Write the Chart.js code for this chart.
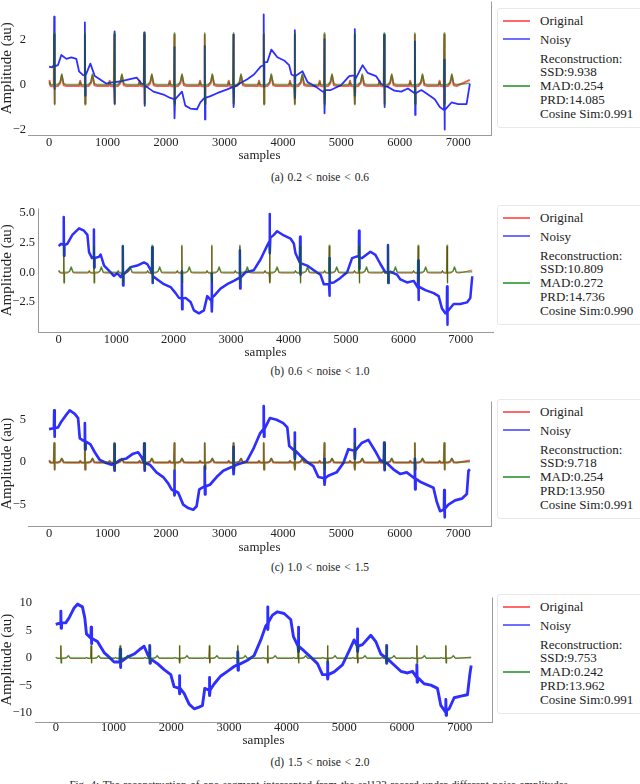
<!DOCTYPE html>
<html>
<head>
<meta charset="utf-8">
<script src="https://cdn.jsdelivr.net/npm/chart.js@4.4.1/dist/chart.umd.min.js"></script>
<style>
  body { margin: 0; background: #fff; }
  #page { position: relative; width: 640px; height: 784px; overflow: hidden; font-family: "Liberation Serif", serif; color: #222; }
  canvas { position: absolute; left: 0; }
  .legend { position: absolute; left: 497px; width: 150px; height: 120px; border: 1px solid #e8e8e8; border-radius: 3px; background: #fff; box-sizing: border-box; }
  .row { position: absolute; left: 42px; font-size: 13px; line-height: 14px; white-space: nowrap; }
  .swatch { position: absolute; left: 5px; width: 27px; }
  .cap { position: absolute; left: 0; width: 640px; text-align: center; font-size: 11.5px; line-height: 14px; word-spacing: 1px; }
</style>
</head>
<body>
<div id="page"></div>
<script>
// ---- data ----
const sampleTicks = [0, 1000, 2000, 3000, 4000, 5000, 6000, 7000];
const yTicksA = [-2, 0, 2];
const yTicksB = [-2.5, 0, 2.5, 5];
const yTicksC = [-5, 0, 5];
const yTicksD = [-10, -5, 0, 5, 10];

// R-peak positions (samples) and one beat of the clean / reconstructed ECG
const beatSamples = [90, 615, 1118, 1630, 2146, 2665, 3156, 3674, 4204, 4712, 5230, 5734, 6260, 6762];
const beatOffsets = [-150, -100, -82, -64, -10, -2, 3, 10, 60, 100, 128, 160, 210];
const originalBeat = [-0.07, -0.07, 0.16, -0.07, -0.09, 2.2, -0.85, -0.08, -0.07, 0.05, 0.4, -0.04, -0.07];
const reconBeat = [0, 0, 0.1, 0, -0.02, 2.28, -0.9, 0, 0, 0.1, 0.46, 0.03, 0];

const noisyA = [[0,0.79],[50,0.75],[84,0.85],[88,3.0],[93,-0.2],[100,0.8],[152,0.85],[210,1.3],[296,1.13],[381,1.2],[467,1.13],[513,0.58],[582,0.41],[609,0.4],[613,2.75],[618,-0.5],[625,0.4],[707,0.92],[782,0.37],[868,0.23],[983,0.03],[1050,0.08],[1112,0.1],[1116,2.35],[1121,-0.85],[1128,0.1],[1241,0.14],[1385,0.23],[1499,0.3],[1585,0.03],[1624,0.0],[1628,2.3],[1633,-0.95],[1640,-0.05],[1671,-0.11],[1786,-0.32],[1958,-0.45],[2073,-0.6],[2140,-0.65],[2144,1.65],[2149,-1.5],[2156,-0.66],[2274,-0.32],[2331,-0.94],[2417,-1.07],[2531,-1.1],[2588,-0.8],[2659,-0.6],[2663,1.7],[2668,-1.55],[2675,-0.6],[2761,-0.52],[2875,-0.39],[3047,-0.22],[3150,-0.11],[3154,2.2],[3159,-1.0],[3166,-0.11],[3276,0.06],[3391,0.23],[3505,0.44],[3620,0.79],[3668,0.85],[3672,3.1],[3677,-0.1],[3684,0.99],[3734,0.99],[3803,1.54],[3906,1.2],[4021,1.06],[4107,0.85],[4147,0.44],[4198,0.37],[4202,2.4],[4207,-0.6],[4214,0.37],[4336,0.58],[4422,0.1],[4565,-0.11],[4680,-0.32],[4706,-0.3],[4710,2.0],[4715,-1.28],[4722,-0.25],[4820,-0.25],[4992,-0.04],[5135,0.37],[5224,0.4],[5228,2.45],[5233,-0.5],[5240,0.23],[5364,0.85],[5450,0.51],[5593,0.37],[5680,0.03],[5728,-0.05],[5732,2.2],[5737,-1.0],[5744,-0.08],[5795,-0.11],[5909,-0.28],[6024,-0.32],[6139,-0.18],[6254,-0.39],[6258,1.9],[6263,-1.35],[6270,-0.39],[6369,-0.25],[6483,-0.45],[6598,-0.66],[6684,-1.0],[6756,-1.14],[6760,1.1],[6765,-2.0],[6772,-1.14],[6884,-0.8],[6999,-0.87],[7142,-0.87],[7199,0.03]];

const noisyB = [[0,2.2],[40,2.4],[84,2.3],[88,4.65],[93,1.4],[100,2.3],[150,2.4],[238,3.15],[354,3.7],[440,3.5],[500,3.15],[528,1.7],[580,1.2],[609,1.3],[613,3.6],[618,0.4],[625,1.2],[700,1.3],[730,1.5],[790,0.57],[905,0],[960,-0.3],[1020,-0.08],[1080,-0.4],[1112,-0.1],[1116,2.2],[1121,-1.1],[1128,-0.2],[1252,0.44],[1368,0.57],[1484,0.83],[1542,0.7],[1600,0.2],[1624,-0.1],[1628,2.1],[1633,-0.9],[1640,-0.3],[1716,-0.6],[1832,-1.0],[1948,-1.24],[2035,-1.75],[2093,-2.15],[2140,-2.2],[2144,0.1],[2149,-3.1],[2156,-2.2],[2209,-2.15],[2296,-2.5],[2354,-3.2],[2441,-3.45],[2528,-3.2],[2586,-2.0],[2640,-2.3],[2659,-2.4],[2663,-0.1],[2668,-3.3],[2675,-2.1],[2701,-2.0],[2817,-1.37],[2933,-1.0],[3049,-0.72],[3150,-0.45],[3154,1.85],[3159,-1.35],[3166,-0.45],[3252,0],[3397,0.18],[3513,1.08],[3629,2.25],[3668,2.6],[3672,4.9],[3677,1.6],[3684,2.9],[3745,3.15],[3803,3.46],[3919,3.1],[4035,2.84],[4093,2.43],[4122,1.6],[4198,0.8],[4202,3.0],[4207,-0.2],[4214,0.78],[4325,0.57],[4441,0.18],[4557,-0.2],[4615,-1.0],[4706,-1.0],[4710,1.2],[4715,-1.96],[4722,-0.9],[4788,-0.85],[4904,-0.47],[5020,0],[5107,1.2],[5194,1.34],[5224,1.3],[5228,3.5],[5233,0.3],[5240,1.2],[5281,1.2],[5426,1.73],[5513,1.47],[5600,0.7],[5687,0],[5728,0],[5732,2.3],[5737,-0.9],[5744,0],[5774,0.05],[5890,-0.2],[5948,-0.6],[6064,-0.85],[6180,-0.72],[6254,-1.3],[6258,1.0],[6263,-2.33],[6270,-1.2],[6383,-1.5],[6528,-1.75],[6614,-2.0],[6672,-3.05],[6730,-3.44],[6756,-3.4],[6760,-1.2],[6765,-4.4],[6772,-3.3],[6875,-2.66],[6991,-2.66],[7107,-2.53],[7165,-2.15],[7199,-0.33]];

const noisyC = [[0,3.9],[84,4.0],[88,6.1],[93,3.0],[100,4.0],[155,4.1],[212,4.8],[297,5.6],[354,6.1],[440,5.7],[497,5.2],[526,2.8],[609,2.45],[613,4.6],[618,1.5],[625,2.45],[708,2.1],[782,1.17],[868,0.26],[982,-0.1],[1068,-0.3],[1112,-0.2],[1116,2.1],[1121,-1.0],[1128,-0.2],[1211,0.26],[1325,0.44],[1439,1.0],[1524,1.17],[1581,0.62],[1624,-0.05],[1628,2.2],[1633,-1.0],[1640,-0.1],[1724,-0.3],[1838,-1.2],[1952,-1.75],[2038,-2.5],[2095,-3.2],[2140,-3.4],[2144,-1.0],[2149,-3.9],[2156,-3.4],[2210,-3.6],[2295,-5.0],[2381,-5.4],[2467,-5.6],[2524,-5.2],[2570,-3.2],[2659,-2.85],[2663,-0.5],[2668,-3.8],[2675,-2.85],[2752,-2.66],[2866,-1.75],[2980,-1.0],[3094,-0.66],[3150,-0.5],[3154,1.8],[3159,-1.4],[3166,-0.5],[3208,-0.3],[3379,0.07],[3493,1.53],[3607,3.36],[3668,3.9],[3672,6.6],[3677,3.0],[3684,3.9],[3778,5.2],[3892,5.0],[4006,4.6],[4075,4.1],[4109,1.9],[4198,1.35],[4202,3.5],[4207,0.4],[4214,1.35],[4292,0.8],[4406,0.07],[4521,-0.47],[4606,-1.75],[4706,-1.9],[4710,0.4],[4715,-2.66],[4722,-1.9],[4777,-1.6],[4920,-1.2],[5035,-0.1],[5120,1.53],[5224,1.35],[5228,3.9],[5233,0.4],[5240,1.35],[5348,2.26],[5462,2.63],[5576,1.35],[5662,0.26],[5728,0],[5732,2.3],[5737,-0.95],[5744,-0.05],[5776,-0.1],[5890,-0.84],[6005,-1.39],[6119,-1.2],[6254,-1.93],[6258,0.4],[6263,-3.2],[6270,-1.93],[6347,-2.3],[6461,-2.66],[6575,-3.0],[6632,-4.67],[6689,-5.77],[6756,-5.58],[6760,-3.3],[6765,-6.5],[6772,-5.5],[6832,-5.0],[6946,-4.5],[7060,-4.3],[7146,-3.76],[7175,-1.0],[7199,-0.84]];

const noisyD = [[0,6.1],[84,6.4],[88,8.5],[93,5.4],[100,6.4],[173,6.4],[231,7.3],[318,9.1],[376,9.8],[462,9.3],[503,7.3],[532,4.4],[609,3.6],[613,5.6],[618,2.6],[625,3.6],[722,3.0],[838,1.0],[925,0.17],[1011,-0.7],[1112,-0.7],[1116,1.6],[1121,-1.7],[1128,-0.7],[1242,0.17],[1358,0.74],[1473,1.7],[1531,2.16],[1589,0.74],[1624,0.0],[1628,2.3],[1633,-0.95],[1640,-0.3],[1676,-0.4],[1762,-1.0],[1878,-2.1],[1993,-3.0],[2051,-5.2],[2140,-5.5],[2144,-3.2],[2149,-6.5],[2156,-5.5],[2224,-6.4],[2311,-8.35],[2398,-9.2],[2484,-8.9],[2542,-8.6],[2582,-5.5],[2659,-5.8],[2663,-3.5],[2668,-6.8],[2675,-5.8],[2744,-4.7],[2860,-3.24],[2975,-2.4],[3091,-1.53],[3150,-1.2],[3154,1.1],[3159,-2.2],[3166,-1.2],[3206,-1.0],[3322,-0.4],[3437,0.45],[3553,3.3],[3639,5.85],[3668,6.2],[3672,9.3],[3677,5.2],[3684,6.5],[3755,7.8],[3841,8.4],[3957,8.1],[4072,7.0],[4119,3.9],[4198,2.16],[4202,5.6],[4207,1.2],[4214,2.16],[4304,1.3],[4419,0.17],[4535,-1.0],[4622,-3.0],[4706,-3.0],[4710,-0.7],[4715,-3.8],[4722,-3.0],[4824,-2.5],[4968,-1.25],[5084,1.3],[5171,3.3],[5224,2.16],[5228,5.3],[5233,1.2],[5240,2.16],[5315,2.44],[5459,4.15],[5546,3.0],[5633,0.74],[5728,0],[5732,2.3],[5737,-0.95],[5744,-0.1],[5749,-0.1],[5864,-1.25],[5980,-2.4],[6095,-2.7],[6182,-2.4],[6254,-3.5],[6258,-1.2],[6263,-4.4],[6270,-3.5],[6384,-4.66],[6500,-4.9],[6615,-5.5],[6673,-8.6],[6756,-9.8],[6760,-7.5],[6765,-10.4],[6772,-9.5],[6818,-9.2],[6904,-7.2],[7020,-6.9],[7135,-6.65],[7175,-3.0],[7199,-1.36]];

const metricsA = ['SSD:9.938', 'MAD:0.254', 'PRD:14.085', 'Cosine Sim:0.991'];
const metricsB = ['SSD:10.809', 'MAD:0.272', 'PRD:14.736', 'Cosine Sim:0.990'];
const metricsC = ['SSD:9.718', 'MAD:0.254', 'PRD:13.950', 'Cosine Sim:0.991'];
const metricsD = ['SSD:9.753', 'MAD:0.242', 'PRD:13.962', 'Cosine Sim:0.991'];
const captions = ['(a) 0.2 < noise < 0.6', '(b) 0.6 < noise < 1.0', '(c) 1.0 < noise < 1.5', '(d) 1.5 < noise < 2.0'];
const figCaption = 'Fig. 4: The reconstruction of one segment intercepted from the sel123 record under different noise amplitudes.';

// ---- layout of the four panels ----
const panels = [
  { top: -8, height: 171, plotH: 143, axisW: 28, padR: 4, xPad: 0, yPad: 2, yMin: -2.24, yMax: 3.67, yTicks: yTicksA, dec: 0,
    noisy: noisyA, redW: 2, blueW: 1.8, sides: ['bottom', 'right'], legendTop: 8, metrics: metricsA, capY: 170 },
  { top: 198, height: 162, plotH: 134, axisW: 38, padR: 2, xPad: 0, yPad: 3, yMin: -5.02, yMax: 5.37, yTicks: yTicksB, dec: 1,
    noisy: noisyB, redW: 1, blueW: 2.5, sides: ['bottom', 'left'], legendTop: 205, metrics: metricsB, capY: 364 },
  { top: 392, height: 163, plotH: 134, axisW: 28, padR: 4, xPad: 0, yPad: 2, yMin: -7.52, yMax: 7.15, yTicks: yTicksC, dec: 0,
    noisy: noisyC, redW: 2, blueW: 2.7, sides: ['bottom', 'right'], legendTop: 399, metrics: metricsC, capY: 560 },
  { top: 587, height: 161, plotH: 135, axisW: 35, padR: 3, xPad: -2, yPad: 3, yMin: -11.6, yMax: 11.0, yTicks: yTicksD, dec: 0,
    noisy: noisyD, redW: 1, blueW: 2.9, sides: ['bottom', 'right'], legendTop: 594, metrics: metricsD, capY: 755 }
];

const RED = 'rgba(255,0,0,0.65)';
const BLUE = 'rgba(0,0,255,0.82)';
const GREEN = 'rgba(0,128,0,0.62)';
Chart.defaults.font.family = 'Liberation Serif';
Chart.defaults.color = '#222';

function beatTrace(shape, first, last) {
  const pts = [{ x: 0, y: first }];
  beatSamples.forEach(b => beatOffsets.forEach((o, i) => {
    const x = b + o;
    if (x > 0 && x < 7199) pts.push({ x: x, y: shape[i] });
  }));
  pts.push({ x: 7199, y: last });
  return pts;
}

const spinePlugin = {
  id: 'spines',
  afterDatasetsDraw(chart, args, opts) {
    const { ctx, chartArea: { left, right, top, bottom } } = chart;
    ctx.save();
    ctx.strokeStyle = '#9a9a9a';
    ctx.lineWidth = 1;
    ctx.beginPath();
    if (opts.sides.includes('bottom')) { ctx.moveTo(left, bottom + 0.5); ctx.lineTo(right + 1, bottom + 0.5); }
    if (opts.sides.includes('left')) { ctx.moveTo(left + 0.5, top); ctx.lineTo(left + 0.5, bottom + 1); }
    if (opts.sides.includes('right')) { ctx.moveTo(right + 0.5, top); ctx.lineTo(right + 0.5, bottom + 1); }
    ctx.stroke();
    ctx.restore();
  }
};

const page = document.getElementById('page');
const fmt = (v, dec) => (dec ? v.toFixed(dec) : String(v)).replace('-', '\u2212');

function addText(cls, text, top, extra) {
  const d = document.createElement('div');
  d.className = cls;
  d.textContent = text;
  d.style.top = top + 'px';
  if (extra) Object.assign(d.style, extra);
  return d;
}

function makeLegend(p) {
  const box = document.createElement('div');
  box.className = 'legend';
  box.style.top = p.legendTop + 'px';
  const sw = (cy, color, w) => {
    const s = document.createElement('div');
    s.className = 'swatch';
    s.style.top = Math.round(cy - w / 2 - 1) + 'px';
    s.style.height = w + 'px';
    s.style.background = color;
    box.appendChild(s);
  };
  sw(12.5, 'rgb(255,105,105)', p.redW === 1 ? 1.5 : 2);
  sw(31, 'rgb(110,110,255)', 1.5);
  sw(78, 'rgb(85,170,85)', 2);
  box.appendChild(addText('row', 'Original', 12.5 - 8));
  box.appendChild(addText('row', 'Noisy', 31.5 - 8));
  box.appendChild(addText('row', 'Reconstruction:', 50.5 - 8));
  p.metrics.forEach((m, i) => box.appendChild(addText('row', m, 64 + i * 14 - 8)));
  page.appendChild(box);
}

panels.forEach((p, k) => {
  const canvas = document.createElement('canvas');
  canvas.width = 495;
  canvas.height = p.height;
  canvas.style.top = p.top + 'px';
  page.appendChild(canvas);

  new Chart(canvas, {
    type: 'line',
    data: {
      datasets: [
        { label: 'Original', data: beatTrace(originalBeat, 0.15, 0.2), borderColor: RED, borderWidth: p.redW, order: 3 },
        { label: 'Noisy', data: p.noisy.map(([x, y]) => ({ x: x, y: y })), borderColor: BLUE, borderWidth: p.blueW, order: 2 },
        { label: 'Reconstruction', data: beatTrace(reconBeat, 0, 0.05), borderColor: GREEN, borderWidth: 1.5, order: 1 }
      ]
    },
    options: {
      responsive: false,
      animation: false,
      devicePixelRatio: 1,
      layout: { autoPadding: false, padding: { left: 0, right: p.padR, top: 0, bottom: 0 } },
      elements: { point: { radius: 0 }, line: { tension: 0, borderJoinStyle: 'round' } },
      plugins: { legend: { display: false }, tooltip: { enabled: false }, spines: { sides: p.sides } },
      scales: {
        x: {
          type: 'linear', min: -360, max: 7560,
          grid: { display: false, drawTicks: false }, border: { display: false },
          afterBuildTicks: s => { s.ticks = sampleTicks.map(v => ({ value: v })); },
          afterFit: s => { s.height = p.height - p.plotH; },
          ticks: { padding: p.xPad, autoSkip: false, maxRotation: 0, font: { size: 12.5 }, callback: v => String(v) },
          title: { display: true, text: 'samples', font: { size: 13 }, padding: { top: 0, bottom: 0 } }
        },
        y: {
          type: 'linear', min: p.yMin, max: p.yMax,
          grid: { display: false, drawTicks: false }, border: { display: false },
          afterBuildTicks: s => { s.ticks = p.yTicks.map(v => ({ value: v })); },
          afterFit: s => { s.width = p.axisW; },
          ticks: { padding: p.yPad, font: { size: 12.5 }, callback: v => fmt(v, p.dec) },
          title: { display: true, text: 'Amplitude (au)', font: { size: 15, lineHeight: 1 }, padding: 0 }
        }
      }
    },
    plugins: [spinePlugin]
  });

  makeLegend(p);
  page.appendChild(addText('cap', captions[k], p.capY));
});

page.appendChild(addText('cap', figCaption, 777, { fontSize: '11px' }));
</script>
</body>
</html>
